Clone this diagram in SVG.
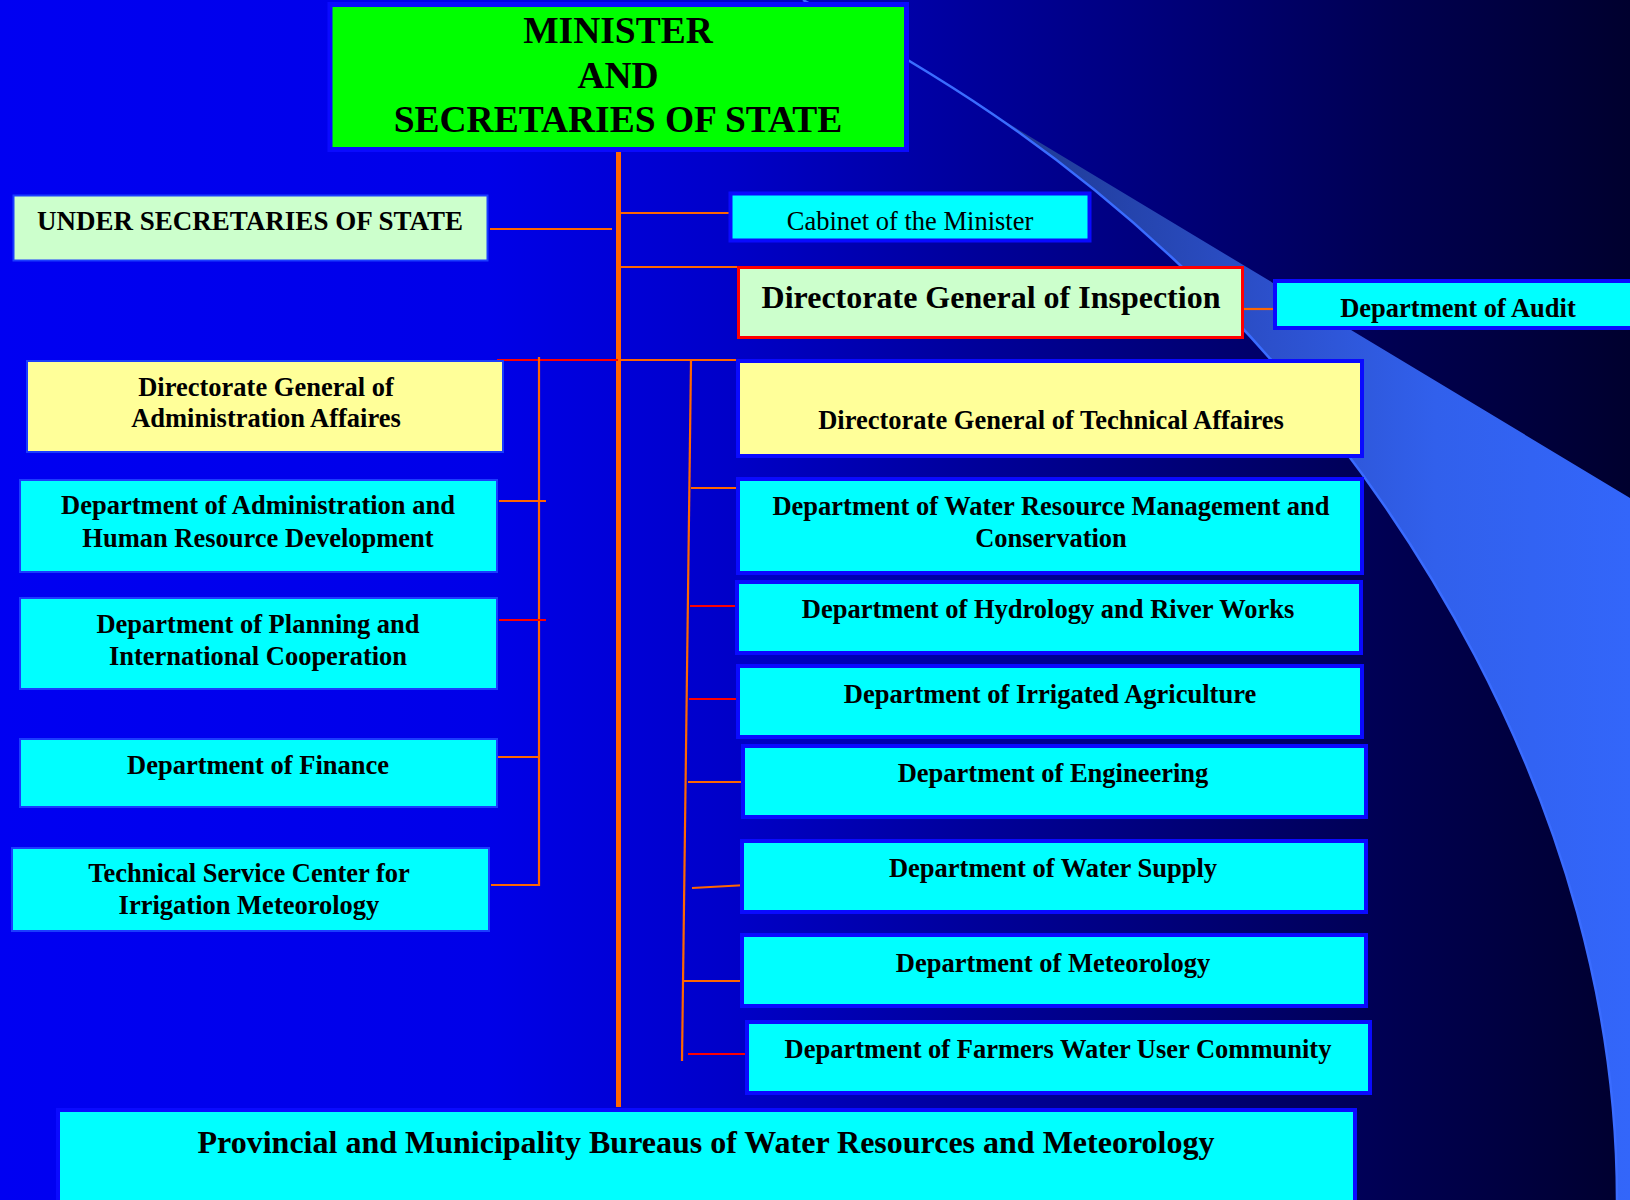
<svg xmlns="http://www.w3.org/2000/svg" width="1630" height="1200" viewBox="0 0 1630 1200">
<defs>
<linearGradient id="bg" x1="0" y1="0" x2="1630" y2="0" gradientUnits="userSpaceOnUse">
<stop offset="0" stop-color="#0000f2"/>
<stop offset="0.3" stop-color="#0000e8"/>
<stop offset="0.45" stop-color="#0000c8"/>
<stop offset="0.6" stop-color="#00009a"/>
<stop offset="0.75" stop-color="#000070"/>
<stop offset="0.86" stop-color="#000050"/>
<stop offset="1" stop-color="#00002e"/>
</linearGradient>
<linearGradient id="band" x1="980" y1="0" x2="1630" y2="0" gradientUnits="userSpaceOnUse">
<stop offset="0" stop-color="#1d378c"/>
<stop offset="0.45" stop-color="#2c50cc"/>
<stop offset="0.7" stop-color="#3160ec"/>
<stop offset="1" stop-color="#3366fa"/>
</linearGradient>
<style>
.t{font-family:"Liberation Serif","Times New Roman",serif;font-weight:bold;font-size:26.5px;fill:#000;text-anchor:middle}
.cy{fill:#00ffff;stroke:#0a0aff;stroke-width:4}
.cyl{fill:#00ffff;stroke:#1a3cff;stroke-width:2}
.ye{fill:#ffff99;stroke:#0a0aff;stroke-width:4}
.yel{fill:#ffff99;stroke:#1a3cff;stroke-width:2}
.gr{fill:#ccffcc}
.o{stroke:#ff6600;stroke-width:2.2;fill:none}
.r{stroke:#ff0000;stroke-width:2.2;fill:none}
</style>
</defs>
<rect x="0" y="0" width="1630" height="1200" fill="url(#bg)"/>
<g id="swoosh">
<path d="M 992.5 114 L 1630 498 L 1630 1200 L 1617 1200 C 1617 800 1382 457 1182 267 C 1117 205.25 1054.75 156.4 992.5 114 Z" fill="url(#band)"/>
<path d="M 803 0 C 933 71.5 1052 143.5 1182 267 C 1382 457 1617 800 1617 1200" fill="none" stroke="#3a6cff" stroke-width="2.5"/>
</g>
<g id="connectors">
<line x1="618.5" y1="147" x2="618.5" y2="1107" stroke="#ff6600" stroke-width="5"/>
<line class="o" x1="490" y1="229" x2="612" y2="229"/>
<line class="o" x1="618" y1="213" x2="730" y2="213"/>
<line class="o" x1="618" y1="267" x2="738" y2="267"/>
<line class="o" x1="1244" y1="309" x2="1274" y2="309"/>
<line class="r" x1="497" y1="360" x2="618" y2="360"/>
<line class="o" x1="618" y1="360" x2="736" y2="360"/>
<line class="o" x1="539" y1="357" x2="539" y2="886"/>
<line class="o" x1="499" y1="501" x2="546" y2="501"/>
<line class="r" x1="499" y1="620" x2="546" y2="620"/>
<line class="o" x1="491" y1="757" x2="539" y2="757"/>
<line class="o" x1="491" y1="885" x2="539" y2="885"/>
<line class="o" x1="691" y1="361" x2="682" y2="1061"/>
<line class="o" x1="691" y1="488" x2="738" y2="488"/>
<line class="r" x1="690" y1="606" x2="738" y2="606"/>
<line class="r" x1="689" y1="699" x2="738" y2="699"/>
<line class="o" x1="688" y1="782" x2="751" y2="782"/>
<line class="o" x1="692" y1="888" x2="747" y2="885"/>
<line class="o" x1="683" y1="981" x2="747" y2="981"/>
<line class="r" x1="688" y1="1054" x2="752" y2="1054"/>
</g>
<g id="minister">
<rect x="330" y="4.5" width="576.5" height="145" fill="#00ff00" stroke="#0a0aff" stroke-width="5"/>
<text class="t" x="618" y="43" style="font-size:37.5px">MINISTER</text>
<text class="t" x="618" y="88" style="font-size:37.5px">AND</text>
<text class="t" x="618" y="132" style="font-size:37.5px">SECRETARIES OF STATE</text>
</g>
<g id="under-secretaries">
<rect class="gr" x="13.5" y="195.5" width="474" height="65" stroke="#1a3cff" stroke-width="2"/>
<text class="t" x="250" y="230" style="font-size:27px">UNDER SECRETARIES OF STATE</text>
</g>
<g id="cabinet">
<rect class="cy" x="730.5" y="193.5" width="359" height="47"/>
<text class="t" x="910" y="230" style="font-weight:normal">Cabinet of the Minister</text>
</g>
<g id="inspection">
<rect class="gr" x="738.5" y="267.5" width="504" height="70" stroke="#ff0000" stroke-width="3"/>
<text class="t" x="991" y="308" style="font-size:32px">Directorate General of Inspection</text>
</g>
<g id="audit">
<rect class="cy" x="1275" y="281" width="380" height="47"/>
<text class="t" x="1458" y="317">Department of Audit</text>
</g>
<g id="dg-admin">
<rect class="yel" x="27" y="361" width="476" height="91"/>
<text class="t" x="266" y="395.5">Directorate General of</text>
<text class="t" x="266" y="427">Administration Affaires</text>
</g>
<g id="dept-admin-hr">
<rect class="cyl" x="20" y="480" width="477" height="92"/>
<text class="t" x="258" y="514">Department of Administration and</text>
<text class="t" x="258" y="547">Human Resource Development</text>
</g>
<g id="dept-planning">
<rect class="cyl" x="20" y="598" width="477" height="91"/>
<text class="t" x="258" y="633">Department of Planning and</text>
<text class="t" x="258" y="664.5">International Cooperation</text>
</g>
<g id="dept-finance">
<rect class="cyl" x="20" y="739" width="477" height="68"/>
<text class="t" x="258" y="773.5">Department of Finance</text>
</g>
<g id="tech-service-center">
<rect class="cyl" x="12" y="848" width="477" height="83"/>
<text class="t" x="249" y="882">Technical Service Center for</text>
<text class="t" x="249" y="914">Irrigation Meteorology</text>
</g>
<g id="dg-technical">
<rect class="ye" x="738" y="361" width="624" height="95"/>
<text class="t" x="1051" y="429">Directorate General of Technical Affaires</text>
</g>
<g id="dept-water-resource">
<rect class="cy" x="738" y="479" width="624" height="94"/>
<text class="t" x="1051" y="515">Department of Water Resource Management and</text>
<text class="t" x="1051" y="547">Conservation</text>
</g>
<g id="dept-hydrology">
<rect class="cy" x="737" y="582" width="624" height="71"/>
<text class="t" x="1048" y="618">Department of Hydrology and River Works</text>
</g>
<g id="dept-irrigated">
<rect class="cy" x="738" y="666" width="624" height="71"/>
<text class="t" x="1050" y="703">Department of Irrigated Agriculture</text>
</g>
<g id="dept-engineering">
<rect class="cy" x="743" y="746" width="623" height="71"/>
<text class="t" x="1053" y="782">Department of Engineering</text>
</g>
<g id="dept-water-supply">
<rect class="cy" x="742" y="841" width="624" height="71"/>
<text class="t" x="1053" y="877">Department of Water Supply</text>
</g>
<g id="dept-meteorology">
<rect class="cy" x="742" y="935" width="624" height="71"/>
<text class="t" x="1053" y="972">Department of Meteorology</text>
</g>
<g id="dept-farmers">
<rect class="cy" x="747" y="1022" width="623" height="71"/>
<text class="t" x="1058" y="1058">Department of Farmers Water User Community</text>
</g>
<g id="provincial">
<rect class="cy" x="58" y="1110" width="1297" height="110"/>
<text class="t" x="706" y="1153" style="font-size:32px">Provincial and Municipality Bureaus of Water Resources and Meteorology</text>
</g>
</svg>
